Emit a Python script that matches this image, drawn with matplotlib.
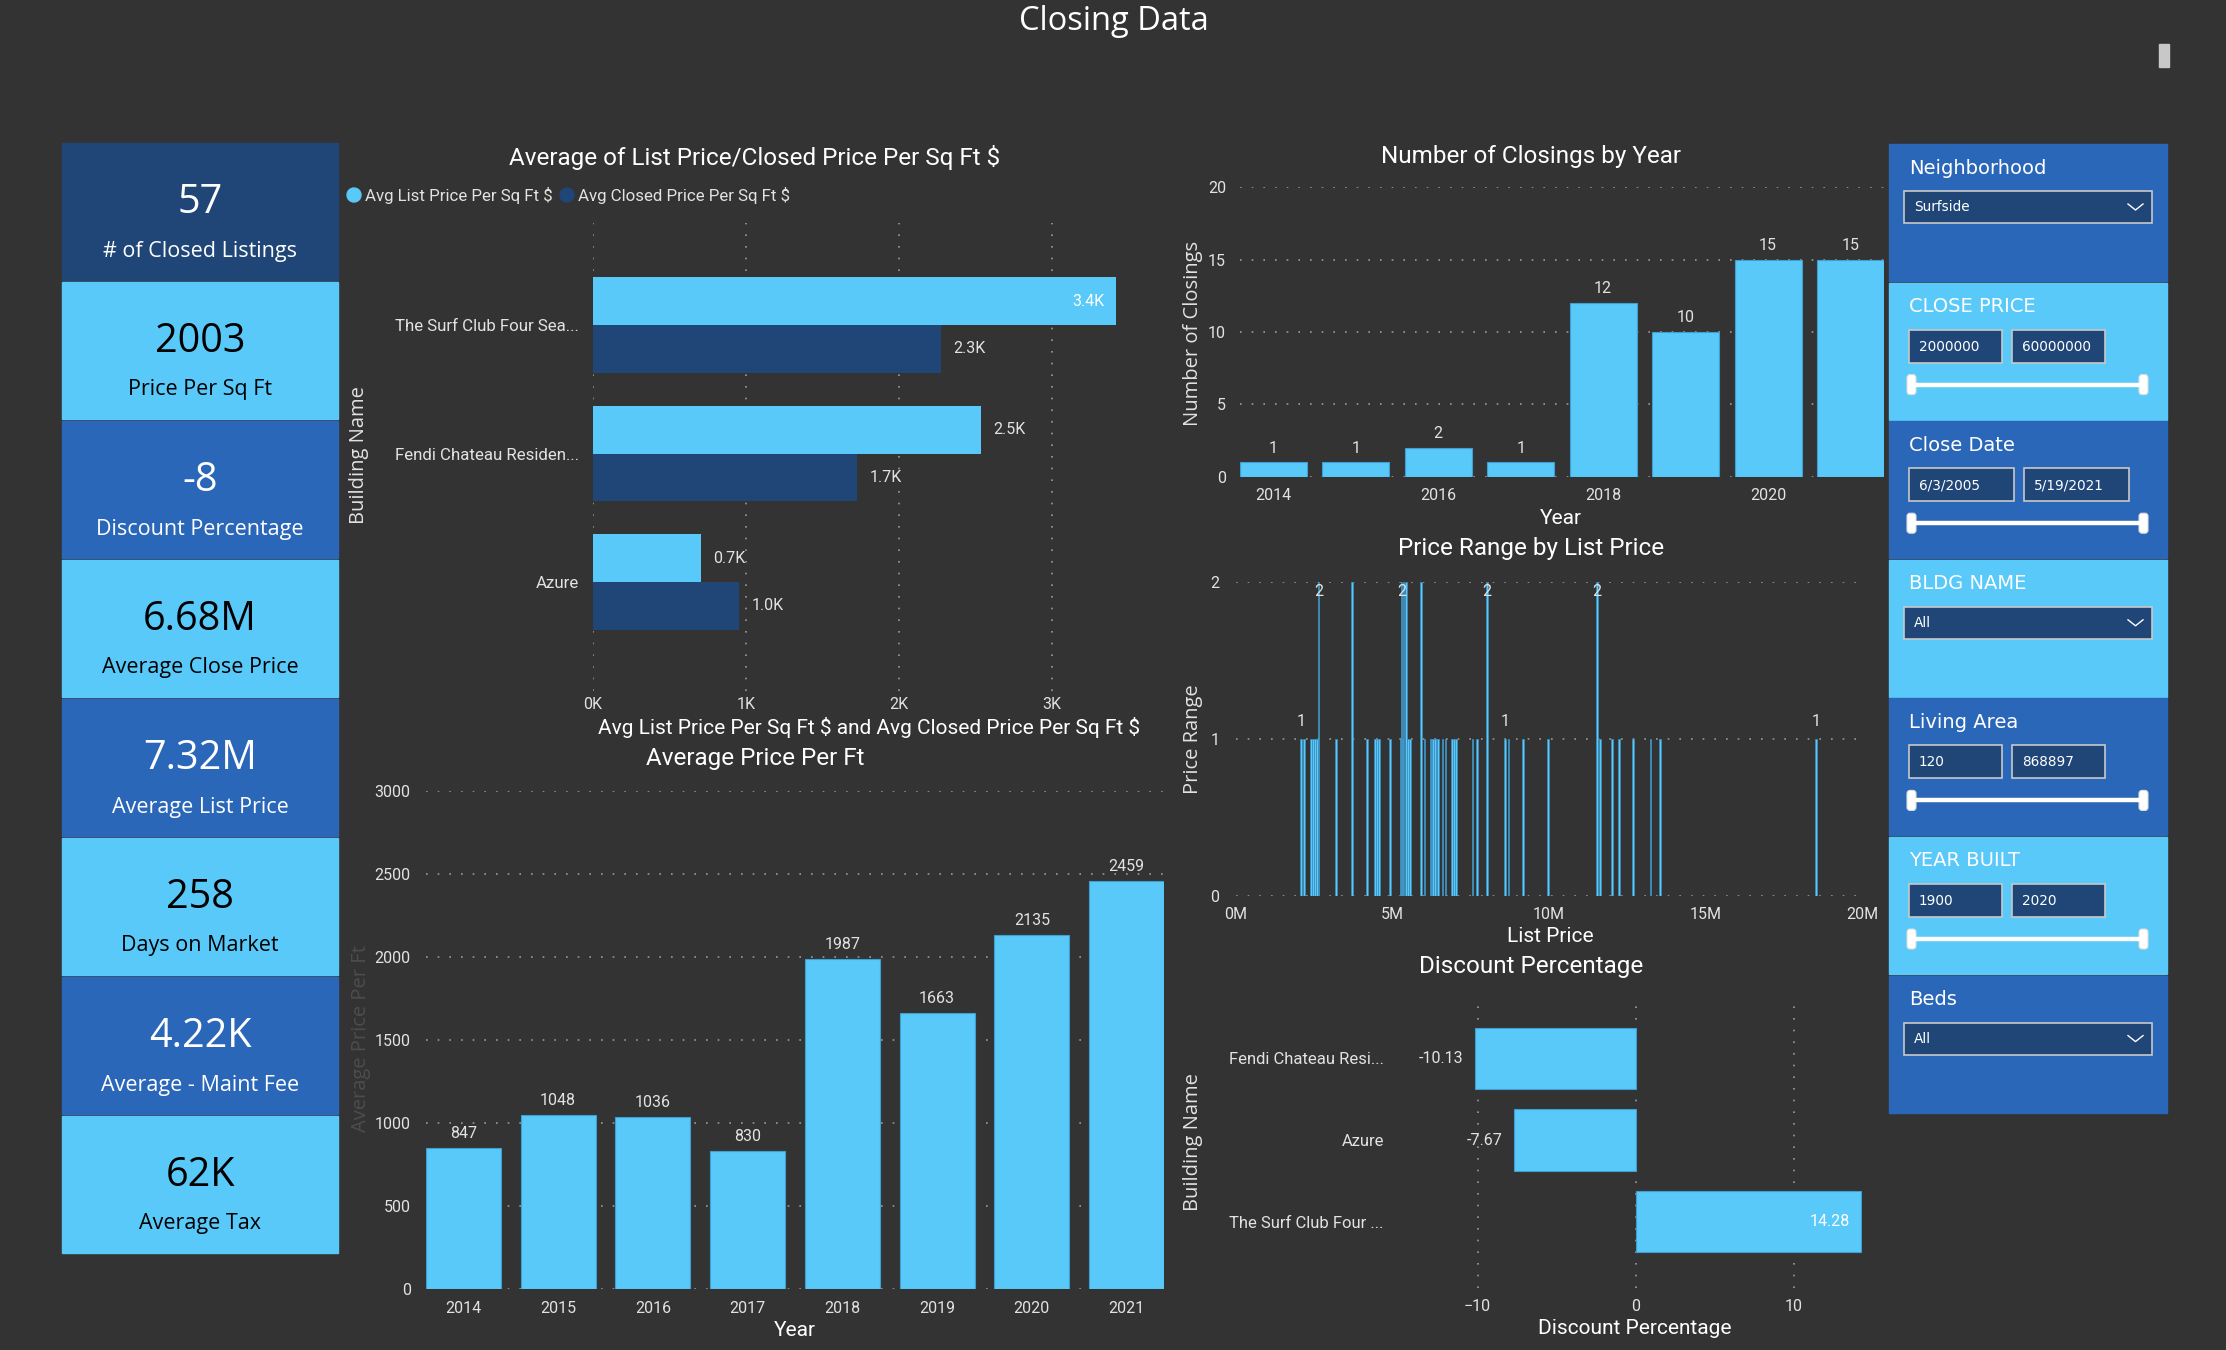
import matplotlib
matplotlib.use('Agg')
import matplotlib.pyplot as plt
from matplotlib.patches import Rectangle, FancyBboxPatch, Circle
import numpy as np

W, H = 2226, 1350
BG = '#333333'
LIGHT = '#58C9F9'
NAVY = '#1F4677'
MID = '#2B67B8'
GRID = '#9a9a9a'
TXT = '#e2e2e2'
SEGOE = 'Open Sans'

plt.rcParams['font.family'] = ['Roboto', 'DejaVu Sans']

# ---------------- data ----------------
kpi_values = ['57', '2003', '-8', '6.68M', '7.32M', '258', '4.22K', '62K']
kpi_labels = ['# of Closed Listings', 'Price Per Sq Ft', 'Discount Percentage',
              'Average Close Price', 'Average List Price', 'Days on Market',
              'Average - Maint Fee', 'Average Tax']

bldg_names = ['The Surf Club Four Sea...', 'Fendi Chateau Residen...', 'Azure']
series_names = ['Avg List Price Per Sq Ft $', 'Avg Closed Price Per Sq Ft $']
avg_list_psf = [3418, 2535, 706]
avg_closed_psf = [2275, 1727, 957]

years = [2014, 2015, 2016, 2017, 2018, 2019, 2020, 2021]
avg_price_per_ft = [847, 1048, 1036, 830, 1987, 1663, 2135, 2459]
closings = [1, 1, 2, 1, 12, 10, 15, 15]

# list price (millions) and number of listings at that price
list_price_m = [2.08, 2.18, 2.40, 2.46, 2.52, 2.58, 2.64, 3.19, 3.70,
                4.19, 4.44, 4.50, 4.56, 4.91, 5.26, 5.29, 5.32, 5.35, 5.42, 5.49, 5.55,
                5.91, 6.02, 6.21, 6.25, 6.30, 6.35, 6.41, 6.45, 6.60, 6.69, 6.90, 6.96,
                7.03, 7.56, 7.69, 8.01, 8.60, 8.71, 9.16, 9.97,
                11.53, 11.62, 12.02, 12.23, 12.69, 13.24, 13.54, 18.54]
price_range = [1, 1, 1, 1, 1, 1, 2, 1, 2,
               1, 1, 1, 1, 1, 1, 2, 1, 2, 2, 1, 1,
               2, 1, 1, 1, 1, 1, 1, 1, 1, 1, 1, 1,
               1, 1, 1, 2, 1, 1, 1, 1,
               2, 1, 1, 1, 1, 1, 1, 1]
labeled_prices = [2.08, 2.64, 5.29, 8.01, 8.60, 11.53, 18.54]

disc_names = ['Fendi Chateau Resi...', 'Azure', 'The Surf Club Four ...']
disc_pct = [-10.13, -7.67, 14.28]

slicer_titles = ['Neighborhood', 'CLOSE PRICE', 'Close Date', 'BLDG NAME',
                 'Living Area', 'YEAR BUILT', 'Beds']
slicer_values = [['Surfside'], ['2000000', '60000000'], ['6/3/2005', '5/19/2021'],
                 ['All'], ['120', '868897'], ['1900', '2020'], ['All']]

# ---------------- figure ----------------
fig = plt.figure(figsize=(W / 100, H / 100), dpi=100, facecolor=BG)
bg = fig.add_axes([0, 0, 1, 1])
bg.set_xlim(0, W)
bg.set_ylim(H, 0)
bg.axis('off')

TITLE = 17.5
AXT = 15
VAXT = 14.5


def px_axes(x0, y0, x1, y1):
    ax = fig.add_axes([x0 / W, 1 - y1 / H, (x1 - x0) / W, (y1 - y0) / H])
    ax.set_facecolor('none')
    for s in ax.spines.values():
        s.set_visible(False)
    ax.tick_params(length=0, colors=TXT, labelsize=11.5)
    return ax


def dotted_grid(ax, axis):
    ax.grid(axis=axis, color=GRID, linestyle=(0, (1, 6)), linewidth=1.2)
    ax.set_axisbelow(True)


def txt(x, y, s, size=13, color='white', **kw):
    kw.setdefault('ha', 'center')
    kw.setdefault('va', 'center')
    bg.text(x, y, s, fontsize=size, color=color, parse_math=False, **kw)


txt(1114, 21, 'Closing Data', size=23.5, family=SEGOE)
bg.add_patch(Rectangle((2159, 44), 10, 23, color='#c8c8c8'))

# KPI cards
card_colors = [NAVY, LIGHT, MID, LIGHT, MID, LIGHT, MID, LIGHT]
for i, (v, lab) in enumerate(zip(kpi_values, kpi_labels)):
    top = 143 + i * 139
    c = card_colors[i]
    bg.add_patch(Rectangle((62, top), 276, 137, color=c))
    fc = 'black' if c == LIGHT else 'white'
    txt(200, top + 60, v, size=28.5, color=fc, family=SEGOE)
    txt(200, top + 108, lab, size=15.5, color=fc, family=SEGOE)

# slicers
for i, (title, vals) in enumerate(zip(slicer_titles, slicer_values)):
    t = 144 + i * 138.6
    c = MID if i % 2 == 0 else LIGHT
    bg.add_patch(Rectangle((1889, t), 278, 137, color=c))
    txt(1909, t + 24, title, size=14, ha='left', family='DejaVu Sans')
    if len(vals) == 1:
        bg.add_patch(Rectangle((1904, t + 47), 248, 32, fc=NAVY, ec='#c8c8c8', lw=1.2))
        txt(1914, t + 63, vals[0], size=9.8, ha='left', family='DejaVu Sans')
        cy = t + 63
        bg.plot([2128, 2135.5, 2143], [cy - 3, cy + 3, cy - 3], color='white', lw=1)
    else:
        w = 105 if '/' in vals[0] else 93
        for j, v in enumerate(vals):
            x0 = 1909 + j * (w + 10)
            bg.add_patch(Rectangle((x0, t + 47), w, 33, fc=NAVY, ec='#c8c8c8', lw=1.2))
            txt(x0 + 10, t + 64, v, size=9.8, ha='left', family='DejaVu Sans')
        sy = t + 102
        bg.plot([1912, 2144], [sy, sy], color='white', lw=3.2, solid_capstyle='round')
        for hx in (1907, 2139):
            bg.add_patch(FancyBboxPatch((hx, sy - 10), 9, 20,
                                        boxstyle='round,pad=0,rounding_size=3',
                                        fc='white', ec='#dddddd', lw=0.8))

# ---- Average of List Price/Closed Price Per Sq Ft $ ----
txt(755, 157, 'Average of List Price/Closed Price Per Sq Ft $', size=TITLE)
bg.add_patch(Circle((354, 195), 7, color=LIGHT))
txt(365, 195, series_names[0], size=12.2, color=TXT, ha='left')
bg.add_patch(Circle((567, 195), 7, color=NAVY))
txt(578, 195, series_names[1], size=12.2, color=TXT, ha='left')

ax = px_axes(593, 223, 1121, 691)
ya = np.arange(len(bldg_names))
h = 0.37
ax.barh(ya - h / 2, avg_list_psf, height=h, color=LIGHT)
ax.barh(ya + h / 2, avg_closed_psf, height=h, color=NAVY)
ax.set_xlim(0, 3450)
ax.set_ylim(2.848, -0.794)
ax.set_xticks([0, 1000, 2000, 3000])
ax.set_xticklabels(['0K', '1K', '2K', '3K'])
ax.set_yticks(ya)
ax.set_yticklabels(bldg_names, fontsize=12.2)
ax.tick_params(axis='y', pad=10)
ax.tick_params(axis='x', pad=4)
dotted_grid(ax, 'x')
for vals, offs in ((avg_list_psf, -h / 2), (avg_closed_psf, h / 2)):
    for y, v in zip(ya, vals):
        lab = f'{v / 1000:.1f}K'
        if v + 450 > 3450:
            ax.text(v - 78, y + offs, lab, ha='right', va='center', fontsize=11.5, color='white')
        else:
            ax.text(v + 78, y + offs, lab, ha='left', va='center', fontsize=11.5, color=TXT)
txt(869, 727, 'Avg List Price Per Sq Ft $ and Avg Closed Price Per Sq Ft $', size=AXT)
txt(359, 455, 'Building Name', size=VAXT, rotation=90, family=SEGOE, color=TXT)

# ---- Average Price Per Ft ----
txt(755, 759, 'Average Price Per Ft', size=TITLE)
ax = px_axes(426, 791, 1164, 1289)
xb = np.arange(len(years))
ax.bar(xb, avg_price_per_ft, width=0.79, color=LIGHT, edgecolor='#3f9fd3', lw=0.8)
ax.set_xlim(-0.395, 7.395)
ax.set_ylim(0, 3000)
ax.set_yticks(range(0, 3001, 500))
ax.set_xticks(xb)
ax.set_xticklabels([str(y) for y in years])
ax.tick_params(axis='y', pad=11)
ax.tick_params(axis='x', pad=8.5)
dotted_grid(ax, 'y')
for x, v in zip(xb, avg_price_per_ft):
    ax.annotate(str(v), (x, v), xytext=(0, 5), textcoords='offset points',
                ha='center', va='bottom', fontsize=11.5, color=TXT, annotation_clip=False)
txt(795, 1331, 'Year', size=AXT)
txt(361, 1039, 'Average Price Per Ft', size=VAXT, rotation=90, family=SEGOE, color='#4d4d4d')

# ---- Number of Closings by Year ----
txt(1531, 157, 'Number of Closings by Year', size=TITLE)
ax = px_axes(1240, 187, 1884, 477)
ax.bar(xb, closings, width=0.81, color=LIGHT, edgecolor='#3f9fd3', lw=0.8)
ax.set_xlim(-0.405, 7.405)
ax.set_ylim(0, 20)
ax.set_yticks(range(0, 21, 5))
ax.set_xticks(xb[::2])
ax.set_xticklabels([str(y) for y in years[::2]])
ax.tick_params(axis='y', pad=10)
ax.tick_params(axis='x', pad=8)
dotted_grid(ax, 'y')
for x, v in zip(xb, closings):
    ax.annotate(str(v), (x, v), xytext=(0, 5), textcoords='offset points',
                ha='center', va='bottom', fontsize=11.5, color=TXT, annotation_clip=False)
txt(1561, 519, 'Year', size=AXT)
txt(1193, 333, 'Number of Closings', size=VAXT, rotation=90, family=SEGOE, color=TXT)

# ---- Price Range by List Price ----
txt(1531, 549, 'Price Range by List Price', size=TITLE)
ax = px_axes(1236, 582, 1862, 896)
ax.bar(list_price_m, price_range, width=0.055, color=LIGHT, edgecolor='#3a8fc0', lw=0.5)
ax.set_xlim(0, 20)
ax.set_ylim(0, 2)
ax.set_xticks([0, 5, 10, 15, 20])
ax.set_xticklabels(['0M', '5M', '10M', '15M', '20M'])
ax.set_yticks([0, 1, 2])
ax.tick_params(axis='y', pad=12)
ax.tick_params(axis='x', pad=8)
dotted_grid(ax, 'y')
for p, c in zip(list_price_m, price_range):
    if p in labeled_prices:
        ax.text(p, min(c + 0.11, 1.94), str(c), ha='center', va='center',
                fontsize=11.5, color=TXT)
txt(1550, 937, 'List Price', size=AXT)
txt(1193, 739, 'Price Range', size=VAXT, rotation=90, family=SEGOE, color=TXT)

# ---- Discount Percentage ----
txt(1531, 967, 'Discount Percentage', size=TITLE)
ax = px_axes(1472.8, 1002, 1861.7, 1288)
yd = np.arange(len(disc_names))
ax.barh(yd, disc_pct, height=0.75, color=LIGHT, edgecolor='#3f9fd3', lw=0.8)
ax.set_xlim(-10.3, 14.3)
ax.set_ylim(2.81, -0.69)
ax.set_xticks([-10, 0, 10])
ax.set_yticks(yd)
ax.set_yticklabels(disc_names, fontsize=12)
ax.tick_params(axis='y', pad=64)
ax.tick_params(axis='x', pad=8)
dotted_grid(ax, 'x')
for y, v in zip(yd, disc_pct):
    col = TXT if v < 0 else 'white'
    ax.text(v - 0.75, y, f'{v:.2f}', ha='right', va='center', fontsize=11.5, color=col)
txt(1635, 1328, 'Discount Percentage', size=AXT)
txt(1193, 1142, 'Building Name', size=VAXT, rotation=90, family=SEGOE, color=TXT)

fig.savefig('out.png', dpi=100, facecolor=BG)
